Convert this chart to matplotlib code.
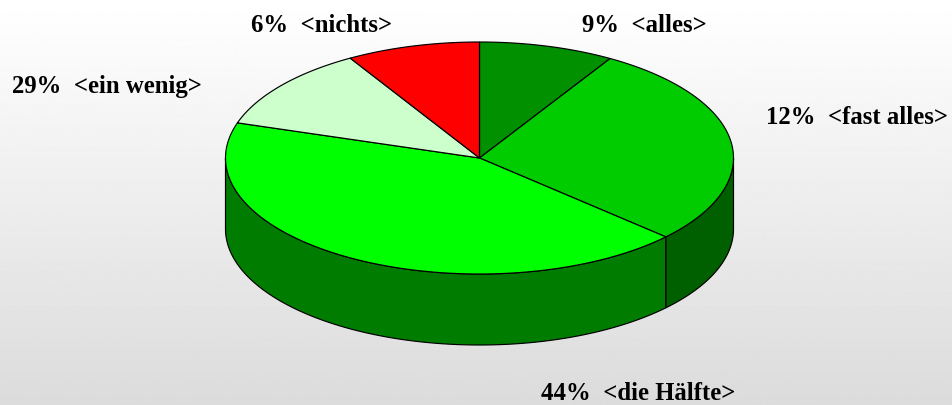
import numpy as np
import matplotlib
matplotlib.use("Agg")
import matplotlib.pyplot as plt
from matplotlib.patches import Polygon

# slice sizes as drawn (the printed percentages differ from the drawn wedges)
slice_sizes = [8.6, 28.3, 43.0, 11.6, 8.5]
top_colors = ["#009000", "#00cc00", "#00ff00", "#ccffcc", "#ff0000"]
side_colors = ["#004800", "#006000", "#007c00", "#668066", "#800000"]
label_texts = ["9%  <alles>", "12%  <fast alles>", "44%  <die Hälfte>",
               "29%  <ein wenig>", "6%  <nichts>"]
label_x = [644, 857, 638, 107, 322]
label_y = [25, 118, 394, 87, 25]

W, H = 952, 405
CX, CY, RX, RY = 479.5, 158, 254, 116
DEPTH = 71

plt.rcParams["font.family"] = ["Liberation Serif", "DejaVu Serif"]

fig = plt.figure(figsize=(W / 100, H / 100), dpi=100)
ax = fig.add_axes([0, 0, 1, 1])
ax.set_xlim(0, W)
ax.set_ylim(H, 0)
ax.axis("off")

# background fades from white at the top to light grey at the bottom
grad = np.linspace(1.0, 0.86, 256).reshape(-1, 1)
ax.imshow(grad, extent=[0, W, H, 0], cmap="gray", vmin=0, vmax=1, aspect="auto", zorder=0)


def rim(a0, a1, n=120):
    # angles are clockwise from the top of the ellipse
    t = np.radians(np.linspace(a0, a1, n))
    return CX + RX * np.sin(t), CY - RY * np.cos(t)


edges = np.cumsum([0] + slice_sizes) / sum(slice_sizes) * 360

# side walls, only the front half of the ellipse shows (90 to 270 degrees)
for i, col in enumerate(side_colors):
    a0, a1 = max(edges[i], 90), min(edges[i + 1], 270)
    if a1 <= a0:
        continue
    x, y = rim(a0, a1)
    pts = np.vstack([np.column_stack([x, y]),
                     np.column_stack([x[::-1], y[::-1] + DEPTH])])
    ax.add_patch(Polygon(pts, closed=True, fc=col, ec="black", lw=0.85, zorder=2))

# top wedges
for i, col in enumerate(top_colors):
    x, y = rim(edges[i], edges[i + 1])
    pts = np.vstack([[CX, CY], np.column_stack([x, y])])
    ax.add_patch(Polygon(pts, closed=True, fc=col, ec="black", lw=0.85, zorder=3))

for txt, lx, ly in zip(label_texts, label_x, label_y):
    ax.text(lx, ly, txt, fontsize=17.8, fontweight="bold", ha="center", va="center",
            color="black", zorder=4)

fig.savefig("out.png", dpi=100)
